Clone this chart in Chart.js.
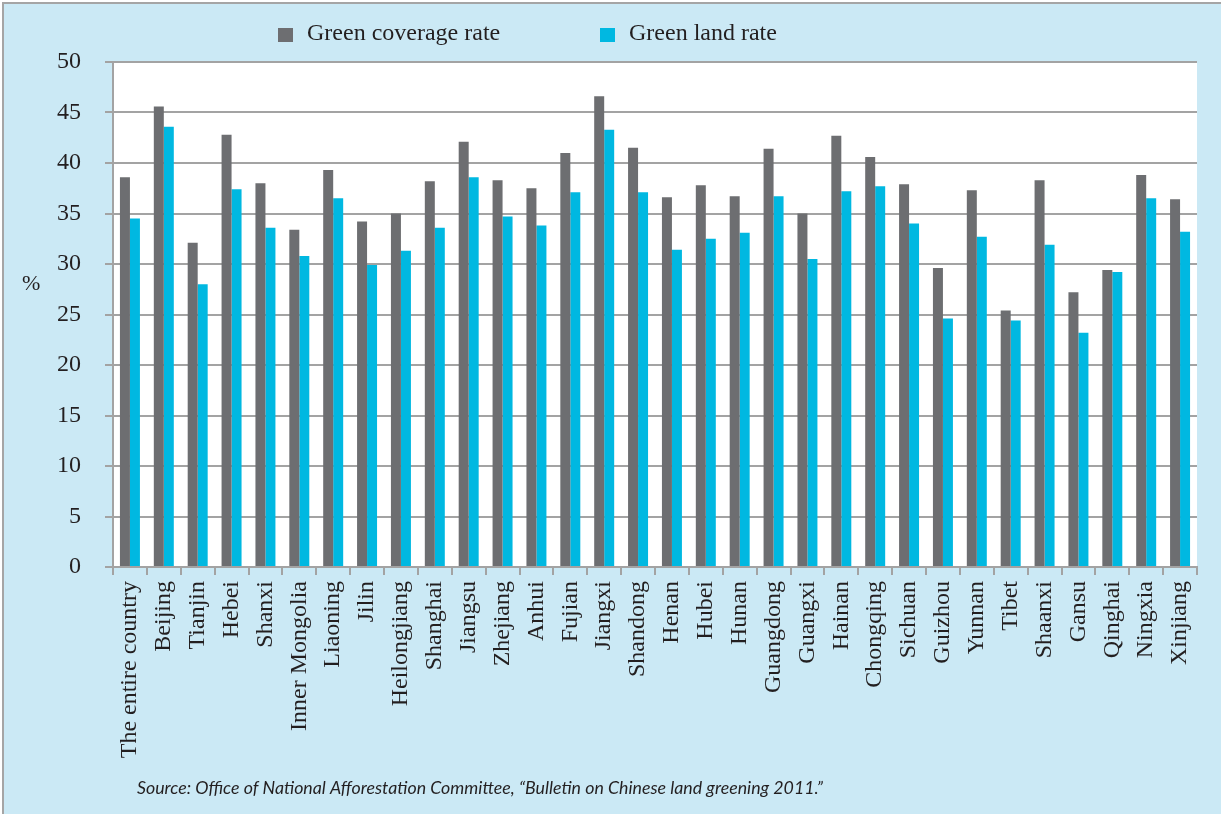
<!DOCTYPE html>
<html>
<head>
<meta charset="utf-8">
<script src="https://cdn.jsdelivr.net/npm/chart.js@4.4.1/dist/chart.umd.min.js"></script>
<style>
    body { margin: 0; background: #fff; }
    #frame { position: absolute; left: 2px; top: 2px; width: 1219px; height: 812px; background: #cbe9f5; border-top: 2px solid #a5a5a5; border-left: 2px solid #a5a5a5; box-sizing: border-box; }
    #wrap { position: absolute; left: 0; top: 0; width: 1221px; height: 814px; }
</style>
</head>
<body>
<div id="frame"></div>
<div id="wrap"><canvas id="myChart"></canvas></div>
<script>
const provinces = ['The entire country', 'Beijing', 'Tianjin', 'Hebei', 'Shanxi', 'Inner Mongolia', 'Liaoning', 'Jilin',
    'Heilongjiang', 'Shanghai', 'Jiangsu', 'Zhejiang', 'Anhui', 'Fujian', 'Jiangxi', 'Shandong', 'Henan', 'Hubei',
    'Hunan', 'Guangdong', 'Guangxi', 'Hainan', 'Chongqing', 'Sichuan', 'Guizhou', 'Yunnan', 'Tibet', 'Shaanxi',
    'Gansu', 'Qinghai', 'Ningxia', 'Xinjiang'];
const coverageRate = [38.6, 45.6, 32.1, 42.8, 38.0, 33.4, 39.3, 34.2, 35.0, 38.2, 42.1, 38.3, 37.5, 41.0, 46.6, 41.5,
    36.6, 37.8, 36.7, 41.4, 35.0, 42.7, 40.6, 37.9, 29.6, 37.3, 25.4, 38.3, 27.2, 29.4, 38.8, 36.4];
const landRate = [34.5, 43.6, 28.0, 37.4, 33.6, 30.8, 36.5, 29.9, 31.3, 33.6, 38.6, 34.7, 33.8, 37.1, 43.3, 37.1,
    31.4, 32.5, 33.1, 36.7, 30.5, 37.2, 37.7, 34.0, 24.6, 32.7, 24.4, 31.9, 23.2, 29.2, 36.5, 33.2];
const seriesNames = ['Green coverage rate', 'Green land rate'];
const yTickValues = [0, 5, 10, 15, 20, 25, 30, 35, 40, 45, 50];
const unitLabel = '%';
const sourceNote = 'Source: Office of National Afforestation Committee, \u201cBulletin on Chinese land greening 2011.\u201d';

const ctx = document.getElementById('myChart');
const textColor = '#231f20';
const gridColor = '#a3a3a3';
const legendX = [278, 600];

Chart.defaults.font.family = '"Liberation Serif", "Times New Roman", serif';
Chart.defaults.color = textColor;

// white plot area, legend, unit label and source line
const extras = {
    id: 'extras',
    beforeDraw(chart) {
        const a = chart.chartArea;
        const c = chart.ctx;
        c.save();
        c.fillStyle = '#fff';
        c.fillRect(a.left, a.top, a.right - a.left, a.bottom - a.top);
        c.restore();
    },
    afterDraw(chart) {
        const c = chart.ctx;
        c.save();
        c.textBaseline = 'middle';
        c.font = '24px "Liberation Serif"';
        chart.data.datasets.forEach(function (ds, i) {
            c.fillStyle = ds.backgroundColor;
            c.fillRect(legendX[i], 28, 15, 14);
            c.fillStyle = textColor;
            c.fillText(ds.label, legendX[i] + 29, 34);
        });
        c.font = '22px "Liberation Serif"';
        c.fillText(unitLabel, 22, 284);
        c.font = 'italic 18px Lato';
        c.textBaseline = 'alphabetic';
        c.fillText(sourceNote, 137, 794, 686);
        c.restore();
    }
};

const myChart = new Chart(ctx, {
    type: 'bar',
    data: {
        labels: provinces,
        datasets: [{
            label: seriesNames[0],
            data: coverageRate,
            backgroundColor: '#6d6e71'
        }, {
            label: seriesNames[1],
            data: landRate,
            backgroundColor: '#00b8e1'
        }]
    },
    options: {
        responsive: true,
        maintainAspectRatio: false,
        animation: false,
        layout: {
            padding: { top: 62, right: 24, bottom: 0, left: 0 }
        },
        datasets: {
            bar: {
                categoryPercentage: 0.59,
                barPercentage: 1.0
            }
        },
        plugins: {
            legend: { display: false },
            tooltip: { enabled: false }
        },
        scales: {
            x: {
                afterFit: function (scale) { scale.height = 247; },
                grid: {
                    drawOnChartArea: false,
                    color: gridColor,
                    lineWidth: 2,
                    tickLength: 8
                },
                border: { color: gridColor, width: 2 },
                ticks: {
                    autoSkip: false,
                    minRotation: 90,
                    maxRotation: 90,
                    padding: 6,
                    font: { size: 24 },
                    color: textColor
                }
            },
            y: {
                min: 0,
                max: 50,
                afterFit: function (scale) { scale.width = 113; },
                afterBuildTicks: function (scale) {
                    scale.ticks = yTickValues.map(v => ({ value: v }));
                },
                grid: {
                    color: gridColor,
                    lineWidth: 2,
                    tickLength: 8
                },
                border: { color: gridColor, width: 2 },
                ticks: {
                    padding: 24,
                    font: { size: 24 },
                    color: textColor
                }
            }
        }
    },
    plugins: [extras]
});
</script>
</body>
</html>
